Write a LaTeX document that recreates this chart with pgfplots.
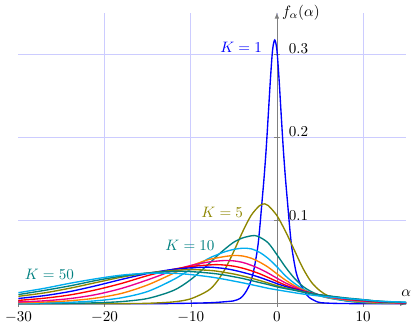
\documentclass[border=0pt]{standalone}
\usepackage{pgfplots}
\pgfplotsset{compat=1.18}
\begin{document}
\begin{tikzpicture}
\begin{axis}[
    scale only axis,
    width=257pt, height=193pt,
    axis lines=middle,
    axis line style={gray, -latex},
    xmin=-30, xmax=15,
    ymin=0, ymax=0.35,
    xtick={-20,-10,0,10},
    extra x ticks={-30},
    extra x tick style={grid=none},
    ytick={0.1,0.2,0.3},
    hide obscured x ticks=false,
    hide obscured y ticks=false,
    grid=major,
    grid style={blue!20},
    yticklabel style={anchor=south west, xshift=6.5pt, yshift=-3.3pt,
        /pgf/number format/fixed},
    xlabel={$\alpha$},
    ylabel={$f_\alpha(\alpha)$},
    xlabel style={at={(rel axis cs:1,0)}, anchor=south, yshift=1pt},
    ylabel style={at={(axis cs:0,0.35)}, anchor=west, rotate=0},
    clip=false,
    every axis plot/.append style={line width=0.9pt, smooth},
]
% K = 1
\addplot[blue] coordinates {
    (-30,0) (-15,0) (-12,0.0003) (-10,0.0006) (-8,0.0011) (-7,0.0016) (-6,0.0024)
    (-5,0.0035) (-4.25,0.0065) (-3.75,0.012) (-3.25,0.021) (-2.75,0.037) (-2.25,0.066)
    (-2,0.09) (-1.75,0.12) (-1.5,0.15) (-1.25,0.185) (-1,0.227) (-0.75,0.27)
    (-0.5,0.305) (-0.25,0.317) (0,0.305) (0.25,0.27) (0.5,0.227) (0.75,0.185)
    (1,0.15) (1.25,0.12) (1.5,0.09) (1.75,0.066) (2.25,0.037) (2.75,0.023)
    (3.25,0.014) (3.75,0.0075) (4.75,0.002) (5.75,0.0008) (8,0.0002) (15,0)
};
% K = 5
\addplot[olive] coordinates {
    (-30,0) (-27,0) (-24,0) (-21,0) (-18,0.0001) (-15,0.0005) (-12,0.0022)
    (-10,0.0059) (-8,0.0157) (-7,0.026) (-6,0.042) (-5,0.063) (-4,0.086)
    (-3,0.106) (-2,0.118) (-1.4,0.120) (-1,0.118) (0,0.106) (1,0.087) (2,0.065)
    (3,0.043) (4,0.026) (5,0.0156) (6,0.0094) (8,0.0036) (10,0.0013) (12,0.0005)
    (15,0.0001)
};
% K = 10
\addplot[teal] coordinates {
    (-30,0.0001) (-27,0.0002) (-24,0.0005) (-21,0.0011) (-18,0.0026) (-15,0.0063)
    (-12,0.016) (-10,0.029) (-8,0.047) (-7,0.057) (-6,0.066) (-5,0.074) (-4,0.079)
    (-3,0.0816) (-2.6,0.082) (-2,0.080) (-1,0.073) (0,0.059) (1,0.044) (2,0.031)
    (3,0.021) (4,0.0145) (5,0.010) (6,0.007) (8,0.0035) (10,0.0019) (12,0.001)
    (15,0.0004)
};
% K = 15
\addplot[cyan] coordinates {
    (-30,0.0004) (-27,0.0009) (-24,0.0017) (-21,0.0035) (-18,0.0072) (-15,0.0147)
    (-12,0.029) (-10,0.0415) (-8,0.054) (-7,0.0586) (-6,0.0626) (-5,0.0653)
    (-4,0.0667) (-3,0.066) (-2,0.0617) (-1,0.0543) (0,0.0444) (1,0.0335) (2,0.0248)
    (3,0.018) (4,0.013) (5,0.0094) (6,0.0069) (8,0.0038) (10,0.0021) (12,0.0012)
    (15,0.0004)
};
% K = 20
\addplot[orange] coordinates {
    (-30,0.0011) (-27,0.002) (-24,0.0036) (-21,0.0068) (-18,0.0125) (-15,0.0226)
    (-12,0.0365) (-10,0.0455) (-8,0.0528) (-7,0.055) (-6,0.0568) (-5,0.058)
    (-4,0.0574) (-3,0.0548) (-2,0.050) (-1,0.0438) (0,0.036) (1,0.0284) (2,0.022)
    (3,0.0168) (4,0.0129) (5,0.0097) (6,0.0075) (8,0.0045) (10,0.0027) (12,0.0015)
    (15,0.0005)
};
% K = 25
\addplot[magenta] coordinates {
    (-30,0.0021) (-27,0.0035) (-24,0.0062) (-21,0.011) (-18,0.0185) (-15,0.0287)
    (-12,0.040) (-10,0.046) (-8,0.050) (-7,0.0512) (-6,0.052) (-5,0.0515)
    (-4,0.0497) (-3,0.0463) (-2,0.042) (-1,0.0367) (0,0.0307) (1,0.025) (2,0.0203)
    (3,0.0158) (4,0.0127) (5,0.0101) (6,0.0081) (8,0.0052) (10,0.0033) (12,0.0019)
    (15,0.0007)
};
% K = 30
\addplot[red] coordinates {
    (-30,0.004) (-27,0.0066) (-24,0.0106) (-21,0.0167) (-18,0.0245) (-15,0.0338)
    (-12,0.0414) (-10,0.0447) (-8,0.0465) (-7,0.047) (-6,0.0464) (-5,0.0451)
    (-4,0.0428) (-3,0.0397) (-2,0.036) (-1,0.0315) (0,0.0268) (1,0.0223) (2,0.0186)
    (3,0.0153) (4,0.0127) (5,0.0103) (6,0.0085) (8,0.0058) (10,0.0038) (12,0.0021)
    (15,0.0009)
};
% K = 35
\addplot[blue] coordinates {
    (-30,0.0063) (-27,0.0097) (-24,0.0147) (-21,0.0216) (-18,0.0293) (-15,0.0363)
    (-12,0.0414) (-10,0.0431) (-8,0.044) (-7,0.0433) (-6,0.0422) (-5,0.0403)
    (-4,0.0378) (-3,0.035) (-2,0.0317) (-1,0.028) (0,0.0242) (1,0.0207) (2,0.0178)
    (3,0.015) (4,0.0125) (5,0.0106) (6,0.009) (8,0.0063) (10,0.0042) (12,0.0025)
    (15,0.0011)
};
% K = 40
\addplot[olive] coordinates {
    (-30,0.0089) (-27,0.013) (-24,0.0187) (-21,0.0254) (-18,0.032) (-15,0.0369)
    (-12,0.040) (-10,0.041) (-8,0.0402) (-7,0.0392) (-6,0.0375) (-5,0.0357)
    (-4,0.0334) (-3,0.0308) (-2,0.0279) (-1,0.0248) (0,0.0217) (1,0.019) (2,0.0168)
    (3,0.0144) (4,0.0123) (5,0.0105) (6,0.0091) (8,0.0064) (10,0.0045) (12,0.0027)
    (15,0.0013)
};
% K = 45
\addplot[teal] coordinates {
    (-30,0.011) (-27,0.016) (-24,0.0215) (-21,0.0279) (-18,0.0332) (-15,0.0369)
    (-12,0.0389) (-10,0.0386) (-8,0.037) (-7,0.0359) (-6,0.0343) (-5,0.0324)
    (-4,0.0304) (-3,0.0279) (-2,0.0254) (-1,0.023) (0,0.0203) (1,0.0181) (2,0.0162)
    (3,0.014) (4,0.0121) (5,0.0106) (6,0.0094) (8,0.007) (10,0.005) (12,0.0029)
    (15,0.0016)
};
% K = 50
\addplot[cyan] coordinates {
    (-30,0.0133) (-27,0.0185) (-24,0.0246) (-21,0.030) (-18,0.0344) (-15,0.0366)
    (-12,0.0366) (-10,0.035) (-8,0.0326) (-7,0.031) (-6,0.0292) (-5,0.0272)
    (-4,0.0252) (-3,0.023) (-2,0.0208) (-1,0.0185) (0,0.0167) (1,0.015) (2,0.0133)
    (3,0.0117) (4,0.0104) (5,0.0092) (6,0.0082) (8,0.0063) (10,0.0047) (12,0.003)
    (15,0.0018)
};
\node[blue, anchor=east, inner sep=0pt] at (axis cs:-1.7,0.308) {$K=1$};
\node[olive, anchor=east, inner sep=0pt] at (axis cs:-3.9,0.110) {$K=5$};
\node[teal, anchor=east, inner sep=0pt] at (axis cs:-7.2,0.0705) {$K=10$};
\node[teal, anchor=west, inner sep=0pt] at (axis cs:-29.3,0.0355) {$K=50$};
\end{axis}
\end{tikzpicture}
\end{document}
